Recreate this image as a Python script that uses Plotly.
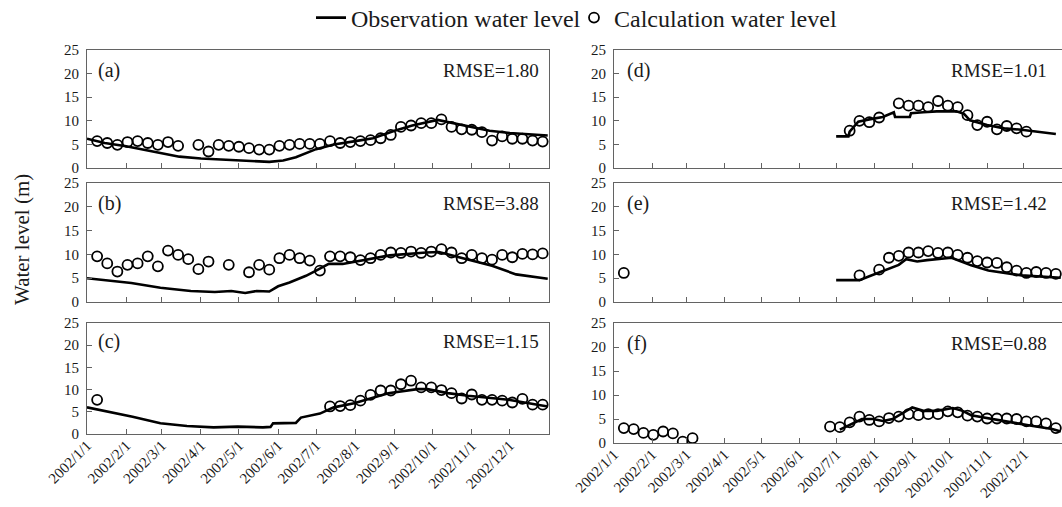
import plotly.graph_objects as go

W, H = 1062, 507

# ---------------- data ----------------
tick_dates = ["2002-01-01", "2002-02-01", "2002-03-01", "2002-04-01", "2002-05-01", "2002-06-01",
              "2002-07-01", "2002-08-01", "2002-09-01", "2002-10-01", "2002-11-01", "2002-12-01"]
tick_labels = ["2002/1/1", "2002/2/1", "2002/3/1", "2002/4/1", "2002/5/1", "2002/6/1",
               "2002/7/1", "2002/8/1", "2002/9/1", "2002/10/1", "2002/11/1", "2002/12/1"]
y_ticks = [0, 5, 10, 15, 20, 25]

panel_labels = ["(a)", "(b)", "(c)", "(d)", "(e)", "(f)"]
rmse_texts = ["RMSE=1.80", "RMSE=3.88", "RMSE=1.15", "RMSE=1.01", "RMSE=1.42", "RMSE=0.88"]

# (a)
a_obs_dates = ["2002-01-01", "2002-01-15", "2002-02-01", "2002-02-15", "2002-03-01", "2002-03-15",
               "2002-04-01", "2002-04-15", "2002-05-01", "2002-05-15", "2002-05-25", "2002-06-05",
               "2002-06-15", "2002-07-01", "2002-07-15", "2002-08-01", "2002-08-15", "2002-09-01",
               "2002-09-15", "2002-10-05", "2002-10-15", "2002-11-01", "2002-11-15", "2002-12-01",
               "2002-12-15", "2002-12-31"]
a_obs_vals = [6.2, 5.3, 4.6, 3.9, 3.2, 2.4, 2.0, 1.8, 1.6, 1.5, 1.3, 1.6, 2.3, 4.0, 5.0, 5.7, 6.3,
              7.9, 9.0, 10.2, 9.6, 8.7, 7.9, 7.4, 7.1, 6.9]
a_calc_dates = ["2002-01-09", "2002-01-17", "2002-01-25", "2002-02-02", "2002-02-10", "2002-02-18",
                "2002-02-26", "2002-03-06", "2002-03-14", "2002-03-30", "2002-04-07", "2002-04-15",
                "2002-04-23", "2002-05-01", "2002-05-09", "2002-05-17", "2002-05-25", "2002-06-02",
                "2002-06-10", "2002-06-18", "2002-06-26", "2002-07-04", "2002-07-12", "2002-07-20",
                "2002-07-28", "2002-08-05", "2002-08-13", "2002-08-21", "2002-08-29", "2002-09-06",
                "2002-09-14", "2002-09-22", "2002-09-30", "2002-10-08", "2002-10-16", "2002-10-24",
                "2002-11-01", "2002-11-09", "2002-11-17", "2002-11-25", "2002-12-03", "2002-12-11",
                "2002-12-19", "2002-12-27"]
a_calc_vals = [5.7, 5.3, 4.9, 5.5, 5.7, 5.3, 4.9, 5.5, 4.7, 4.9, 3.5, 4.9, 4.7, 4.5, 4.2, 3.9, 3.9,
               4.7, 4.9, 5.1, 5.1, 5.1, 5.7, 5.3, 5.5, 5.7, 5.9, 6.3, 7.0, 8.7, 9.0, 9.5, 9.5, 10.3,
               8.7, 8.2, 8.1, 7.6, 5.8, 6.7, 6.2, 6.2, 5.8, 5.6]

# (b)
b_obs_dates = ["2002-01-01", "2002-02-05", "2002-02-28", "2002-03-24", "2002-04-12", "2002-04-25",
               "2002-05-06", "2002-05-15", "2002-05-25", "2002-06-01", "2002-06-10", "2002-06-23",
               "2002-07-01", "2002-07-11", "2002-07-22", "2002-08-10", "2002-08-28", "2002-09-26",
               "2002-10-06", "2002-10-28", "2002-11-17", "2002-12-06", "2002-12-31"]
b_obs_vals = [5.0, 4.0, 3.0, 2.3, 2.1, 2.3, 1.9, 2.3, 2.2, 3.3, 4.1, 5.5, 6.6, 8.0, 8.0, 9.0, 9.8,
              10.4, 10.5, 9.0, 7.6, 5.8, 4.9]
b_calc_dates = ["2002-01-09", "2002-01-17", "2002-01-25", "2002-02-02", "2002-02-10", "2002-02-18",
                "2002-02-26", "2002-03-06", "2002-03-14", "2002-03-22", "2002-03-30", "2002-04-07",
                "2002-04-23", "2002-05-09", "2002-05-17", "2002-05-25", "2002-06-02", "2002-06-10",
                "2002-06-18", "2002-06-26", "2002-07-04", "2002-07-12", "2002-07-20", "2002-07-28",
                "2002-08-05", "2002-08-13", "2002-08-21", "2002-08-29", "2002-09-06", "2002-09-14",
                "2002-09-22", "2002-09-30", "2002-10-08", "2002-10-16", "2002-10-24", "2002-11-01",
                "2002-11-09", "2002-11-17", "2002-11-25", "2002-12-03", "2002-12-11", "2002-12-19",
                "2002-12-27"]
b_calc_vals = [9.6, 8.1, 6.4, 7.8, 8.1, 9.6, 7.5, 10.8, 9.9, 9.0, 6.9, 8.5, 7.8, 6.25, 7.8, 6.8,
               9.2, 9.9, 9.2, 8.7, 6.6, 9.6, 9.6, 9.4, 8.8, 9.2, 9.9, 10.4, 10.3, 10.6, 10.3, 10.6,
               11.1, 10.4, 9.2, 9.9, 9.2, 8.9, 9.9, 9.4, 10.1, 10.0, 10.2]

# (c)
c_obs_dates = ["2002-01-01", "2002-02-06", "2002-02-28", "2002-03-21", "2002-04-11", "2002-04-30",
               "2002-05-20", "2002-05-26", "2002-05-28", "2002-06-15", "2002-06-19", "2002-06-29",
               "2002-07-04", "2002-07-15", "2002-07-31", "2002-08-27", "2002-09-19", "2002-09-27",
               "2002-10-13", "2002-10-29", "2002-11-14", "2002-11-30", "2002-12-31"]
c_obs_vals = [6.0, 3.9, 2.4, 1.8, 1.5, 1.65, 1.5, 1.6, 2.4, 2.5, 3.7, 4.3, 4.6, 6.0, 6.9, 9.2,
              10.1, 10.1, 9.2, 8.6, 8.2, 7.7, 6.2]
c_calc_dates = ["2002-01-09", "2002-07-12", "2002-07-20", "2002-07-28", "2002-08-05", "2002-08-13",
                "2002-08-21", "2002-08-29", "2002-09-06", "2002-09-14", "2002-09-22", "2002-09-30",
                "2002-10-08", "2002-10-16", "2002-10-24", "2002-11-01", "2002-11-09", "2002-11-17",
                "2002-11-25", "2002-12-03", "2002-12-11", "2002-12-19", "2002-12-27"]
c_calc_vals = [7.7, 6.2, 6.3, 6.5, 7.5, 8.8, 9.8, 9.8, 11.2, 12.0, 10.5, 10.5, 9.9, 9.2, 8.0, 8.9,
               7.7, 7.7, 7.5, 7.1, 7.9, 6.6, 6.6]

# (d)
d_obs_dates = ["2002-07-01", "2002-07-11", "2002-07-12", "2002-07-19", "2002-07-28", "2002-08-08",
               "2002-08-17", "2002-08-18", "2002-08-30", "2002-08-31", "2002-09-10", "2002-09-21",
               "2002-10-07", "2002-10-13", "2002-10-18", "2002-11-01", "2002-11-15", "2002-11-29",
               "2002-12-27"]
d_obs_vals = [6.7, 6.7, 7.7, 9.8, 10.3, 10.8, 11.8, 10.8, 10.8, 11.6, 11.8, 12.0, 12.0, 11.5, 10.1,
              9.1, 8.4, 8.1, 7.2]
d_calc_dates = ["2002-07-12", "2002-07-20", "2002-07-28", "2002-08-05", "2002-08-21", "2002-08-29",
                "2002-09-06", "2002-09-14", "2002-09-22", "2002-09-30", "2002-10-08", "2002-10-16",
                "2002-10-24", "2002-11-01", "2002-11-09", "2002-11-17", "2002-11-25", "2002-12-03"]
d_calc_vals = [7.9, 10.0, 9.7, 10.7, 13.7, 13.2, 13.2, 12.9, 14.2, 13.2, 12.9, 11.2, 9.1, 9.8, 8.2,
               8.9, 8.4, 7.7]

# (e)
e_obs_dates = ["2002-07-01", "2002-07-20", "2002-07-28", "2002-08-11", "2002-08-21", "2002-08-27",
               "2002-09-05", "2002-09-13", "2002-10-03", "2002-10-11", "2002-10-19", "2002-11-02",
               "2002-11-16", "2002-11-29", "2002-12-31"]
e_obs_vals = [4.6, 4.6, 5.4, 6.8, 7.8, 9.0, 8.5, 8.8, 9.3, 8.5, 7.7, 6.6, 6.1, 5.6, 5.1]
e_calc_dates = ["2002-01-09", "2002-07-20", "2002-08-05", "2002-08-13", "2002-08-21", "2002-08-29",
                "2002-09-06", "2002-09-14", "2002-09-22", "2002-09-30", "2002-10-08", "2002-10-16",
                "2002-10-24", "2002-11-01", "2002-11-09", "2002-11-17", "2002-11-25", "2002-12-03",
                "2002-12-11", "2002-12-19", "2002-12-27"]
e_calc_vals = [6.1, 5.6, 6.8, 9.3, 9.7, 10.4, 10.4, 10.7, 10.3, 10.4, 9.9, 9.3, 8.6, 8.3, 8.2, 7.3,
               6.6, 6.1, 6.3, 6.1, 5.9]

# (f)
f_obs_dates = ["2002-07-04", "2002-07-14", "2002-07-22", "2002-07-31", "2002-08-08", "2002-08-16",
               "2002-08-25", "2002-09-01", "2002-09-10", "2002-09-21", "2002-10-04", "2002-10-12",
               "2002-10-19", "2002-11-04", "2002-11-21", "2002-12-07", "2002-12-24", "2002-12-31"]
f_obs_vals = [2.8, 4.0, 5.0, 5.0, 4.6, 5.0, 6.4, 7.4, 6.7, 6.7, 7.3, 6.7, 5.8, 5.0, 4.3, 3.6, 2.9, 2.4]
f_calc_dates = ["2002-01-09", "2002-01-17", "2002-01-25", "2002-02-02", "2002-02-10", "2002-02-18",
                "2002-02-26", "2002-03-06", "2002-06-26", "2002-07-04", "2002-07-12", "2002-07-20",
                "2002-07-28", "2002-08-05", "2002-08-13", "2002-08-21", "2002-08-29", "2002-09-06",
                "2002-09-14", "2002-09-22", "2002-09-30", "2002-10-08", "2002-10-16", "2002-10-24",
                "2002-11-01", "2002-11-09", "2002-11-17", "2002-11-25", "2002-12-03", "2002-12-11",
                "2002-12-19", "2002-12-27"]
f_calc_vals = [3.1, 2.9, 2.1, 1.7, 2.4, 2.0, 0.3, 1.0, 3.4, 3.3, 4.3, 5.5, 4.8, 4.5, 5.2, 5.5, 6.0,
               5.8, 6.0, 6.0, 6.6, 6.4, 5.7, 5.5, 5.1, 5.1, 5.1, 5.0, 4.5, 4.5, 4.1, 3.1]

obs_dates = [a_obs_dates, b_obs_dates, c_obs_dates, d_obs_dates, e_obs_dates, f_obs_dates]
obs_vals = [a_obs_vals, b_obs_vals, c_obs_vals, d_obs_vals, e_obs_vals, f_obs_vals]
calc_dates = [a_calc_dates, b_calc_dates, c_calc_dates, d_calc_dates, e_calc_dates, f_calc_dates]
calc_vals = [a_calc_vals, b_calc_vals, c_calc_vals, d_calc_vals, e_calc_vals, f_calc_vals]

# ---------------- layout geometry (pixels) ----------------
col_x = [(87, 549), (87, 549), (87, 549), (614, W), (614, W), (614, W)]
row_y = [(50, 168), (183, 302), (323, 434), (50, 168), (183, 302), (323, 443)]

FONT = "Liberation Serif, Times New Roman, serif"
AXC = "#636363"
TXT = "#1a1a1a"

fig = go.Figure()

for i in range(6):
    sfx = "" if i == 0 else str(i + 1)
    fig.add_trace(go.Scatter(
        x=obs_dates[i], y=obs_vals[i], mode="lines",
        line=dict(color="black", width=2.6),
        name="Observation water level", showlegend=(i == 0), legend="legend",
        xaxis="x" + sfx, yaxis="y" + sfx))
    fig.add_trace(go.Scatter(
        x=calc_dates[i], y=calc_vals[i], mode="markers",
        marker=dict(symbol="circle-open", size=10, color="black", line=dict(width=1.8, color="black")),
        name="Calculation water level", showlegend=(i == 0), legend="legend2",
        xaxis="x" + sfx, yaxis="y" + sfx))

legend_common = dict(orientation="h", xanchor="left", yanchor="middle", y=1 - 18 / H,
                     font=dict(family=FONT, size=24, color=TXT), bgcolor="rgba(0,0,0,0)",
                     itemwidth=30)

layout = dict(
    width=W, height=H, autosize=False,
    margin=dict(l=0, r=0, t=0, b=0, autoexpand=False),
    paper_bgcolor="white", plot_bgcolor="white",
    font=dict(family=FONT, color=TXT),
    legend=dict(x=311 / W, **legend_common),
    legend2=dict(x=574 / W, **legend_common),
    annotations=[],
)

for i in range(6):
    sfx = "" if i == 0 else str(i + 1)
    x0, x1 = col_x[i]
    y0, y1 = row_y[i]
    bottom = i in (2, 5)
    right_col = i >= 3
    layout["xaxis" + sfx] = dict(
        domain=[x0 / W, x1 / W], anchor="y" + sfx,
        type="date", range=["2002-01-01", "2003-01-01"],
        tickmode="array", tickvals=tick_dates, ticktext=tick_labels,
        showticklabels=bottom, tickangle=-45, ticklabelstandoff=-4,
        tickfont=dict(family=FONT, size=15, color=TXT),
        ticks="inside", ticklen=5, tickcolor=AXC, tickwidth=1,
        showline=True, linecolor=AXC, linewidth=1, mirror=True,
        showgrid=False, zeroline=False, automargin=False, fixedrange=True,
    )
    layout["yaxis" + sfx] = dict(
        domain=[1 - y1 / H, 1 - y0 / H], anchor="x" + sfx,
        range=[0, 25], tickmode="array", tickvals=y_ticks,
        tickfont=dict(family=FONT, size=15, color=TXT), ticklabelstandoff=4,
        ticks="inside", ticklen=5, tickcolor=AXC, tickwidth=1,
        showline=True, linecolor=AXC, linewidth=1, mirror=(not right_col),
        showgrid=False, zeroline=False, automargin=False, fixedrange=True,
    )
    layout["annotations"].append(dict(
        text=panel_labels[i], xref="x" + sfx + " domain", yref="y" + sfx + " domain",
        x=0.02 if not right_col else 0.025, y=0.83, xanchor="left", yanchor="middle",
        showarrow=False, font=dict(family=FONT, size=20, color=TXT)))
    layout["annotations"].append(dict(
        text=rmse_texts[i], xref="x" + sfx + " domain", yref="y" + sfx + " domain",
        x=0.982 if not right_col else 0.972, y=0.83, xanchor="right", yanchor="middle",
        showarrow=False, font=dict(family=FONT, size=19, color=TXT)))

layout["annotations"].append(dict(
    text="Water level (m)", xref="paper", yref="paper", x=22 / W, y=1 - 240 / H,
    xanchor="center", yanchor="middle", textangle=-90, showarrow=False,
    font=dict(family=FONT, size=21, color=TXT)))

fig.update_layout(**layout)
fig.write_html("out.html", config={"displayModeBar": False, "staticPlot": True},
               post_script="document.body.style.margin='0';document.body.style.overflow='hidden';")
